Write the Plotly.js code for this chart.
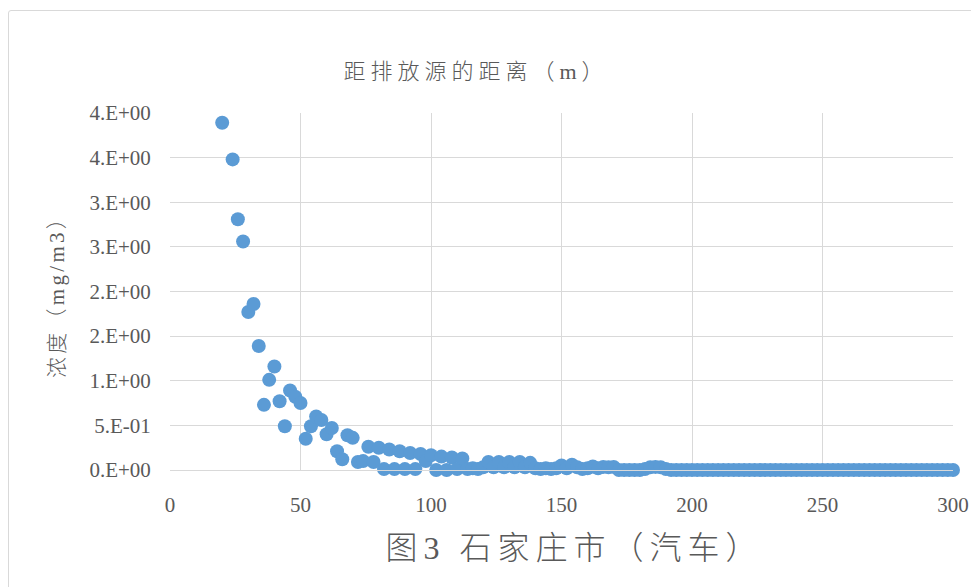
<!DOCTYPE html>
<html>
<head>
<meta charset="utf-8">
<script src="https://cdn.plot.ly/plotly-3.0.1.min.js"></script>
<style>
  html, body { margin: 0; padding: 0; background: #ffffff; }
  #chart { width: 971px; height: 587px; }
  #frame { position: absolute; left: 8px; top: 10px; width: 980px; height: 600px;
           border: 1px solid #D9D9D9; border-radius: 3px; pointer-events: none; }
  #chart .gtitle { letter-spacing: 5px; }
  #chart .xtitle { letter-spacing: 6px; transform: translateX(13px); }
  #chart .ytitle { letter-spacing: 3.3px; }
</style>
</head>
<body>
<div id="chart"></div>
<div id="frame"></div>
<script>
// distance from emission source (m)
const distance = [
  20, 24, 26, 28, 30, 32, 34, 36, 38, 40, 42, 44, 46, 48, 50, 52, 54, 56, 58, 60,
  62, 64, 66, 68, 70, 72, 74, 76, 78, 80, 82, 84, 86, 88, 90, 92, 94, 96, 98, 100,
  102, 104, 106, 108, 110, 112, 114, 116, 118, 120, 122, 124, 126, 128, 130, 132, 134, 136, 138, 140,
  142, 144, 146, 148, 150, 152, 154, 156, 158, 160, 162, 164, 166, 168, 170, 172, 174, 176, 178, 180,
  182, 184, 186, 188, 190, 192, 194, 196, 198, 200, 202, 204, 206, 208, 210, 212, 214, 216, 218, 220,
  222, 224, 226, 228, 230, 232, 234, 236, 238, 240, 242, 244, 246, 248, 250, 252, 254, 256, 258, 260,
  262, 264, 266, 268, 270, 272, 274, 276, 278, 280, 282, 284, 286, 288, 290, 292, 294, 296, 298, 300
];
// concentration (mg/m3)
const concentration = [
  3.89, 3.48, 2.81, 2.56, 1.77, 1.86, 1.39, 0.73, 1.01, 1.16, 0.77, 0.49, 0.89, 0.82, 0.75, 0.35, 0.49, 0.60, 0.56, 0.40,
  0.47, 0.21, 0.12, 0.39, 0.36, 0.09, 0.10, 0.26, 0.09, 0.25, 0.01, 0.23, 0.01, 0.21, 0.01, 0.19, 0.01, 0.18, 0.10, 0.165,
  0.00, 0.15, 0.00, 0.14, 0.01, 0.13, 0.01, 0.02, 0.01, 0.03, 0.09, 0.03, 0.09, 0.03, 0.09, 0.03, 0.09, 0.03, 0.08, 0.02,
  0.01, 0.02, 0.01, 0.02, 0.05, 0.02, 0.06, 0.03, 0.01, 0.02, 0.04, 0.02, 0.035, 0.03, 0.035, 0.00, 0.00, 0.00, 0.00, 0.00,
  0.01, 0.03, 0.035, 0.03, 0.01, 0, 0, 0, 0, 0, 0, 0, 0, 0, 0, 0, 0, 0, 0, 0,
  0, 0, 0, 0, 0, 0, 0, 0, 0, 0, 0, 0, 0, 0, 0, 0, 0, 0, 0, 0,
  0, 0, 0, 0, 0, 0, 0, 0, 0, 0, 0, 0, 0, 0, 0, 0, 0, 0, 0, 0
];
const yTickVals = [0, 0.5, 1.0, 1.5, 2.0, 2.5, 3.0, 3.5, 4.0];
const yTickText = ["0.E+00", "5.E-01", "1.E+00", "2.E+00", "2.E+00", "3.E+00", "3.E+00", "4.E+00", "4.E+00"];
const xTickVals = [0, 50, 100, 150, 200, 250, 300];

const fontFam = "Times New Roman, Liberation Serif, Noto Sans CJK SC, serif";
const gray = "#595959";

const trace = {
  type: "scatter",
  mode: "markers",
  x: distance,
  y: concentration,
  cliponaxis: false,
  marker: { color: "#5B9BD5", size: 14, line: { width: 0 } },
  hoverinfo: "x+y"
};

const layout = {
  width: 971,
  height: 587,
  margin: { l: 170, r: 18, t: 113, b: 117 },
  paper_bgcolor: "#ffffff",
  plot_bgcolor: "#ffffff",
  showlegend: false,
  title: {
    text: "距排放源的距离（m）",
    font: { family: fontFam, size: 22, color: gray, weight: 300 },
    x: 476 / 971, xref: "container", xanchor: "center",
    y: 1 - 71 / 587, yref: "container", yanchor: "middle"
  },
  xaxis: {
    range: [0, 300],
    tickvals: xTickVals,
    ticktext: xTickVals.map(String),
    showgrid: true,
    gridcolor: "#D9D9D9",
    gridwidth: 1,
    zeroline: false,
    showline: true,
    linecolor: "#D9D9D9",
    linewidth: 1,
    ticks: "outside",
    ticklen: 16,
    tickcolor: "rgba(0,0,0,0)",
    tickfont: { family: fontFam, size: 21, color: gray },
    title: {
      text: "图3 石家庄市（汽车）",
      font: { family: fontFam, size: 32, color: gray, weight: 300 },
      standoff: 20
    },
    automargin: false,
    fixedrange: true
  },
  yaxis: {
    range: [0, 4],
    tickvals: yTickVals,
    ticktext: yTickText,
    showgrid: true,
    gridcolor: "#D9D9D9",
    gridwidth: 1,
    zeroline: false,
    showline: false,
    ticks: "outside",
    ticklen: 14,
    tickcolor: "rgba(0,0,0,0)",
    tickfont: { family: fontFam, size: 21, color: gray },
    title: {
      text: "浓度（mg/m3）",
      font: { family: fontFam, size: 21, color: gray, weight: 300 },
      standoff: 19
    },
    automargin: false,
    fixedrange: true
  }
};

Plotly.newPlot("chart", [trace], layout, { displayModeBar: false, staticPlot: true });
</script>
</body>
</html>
